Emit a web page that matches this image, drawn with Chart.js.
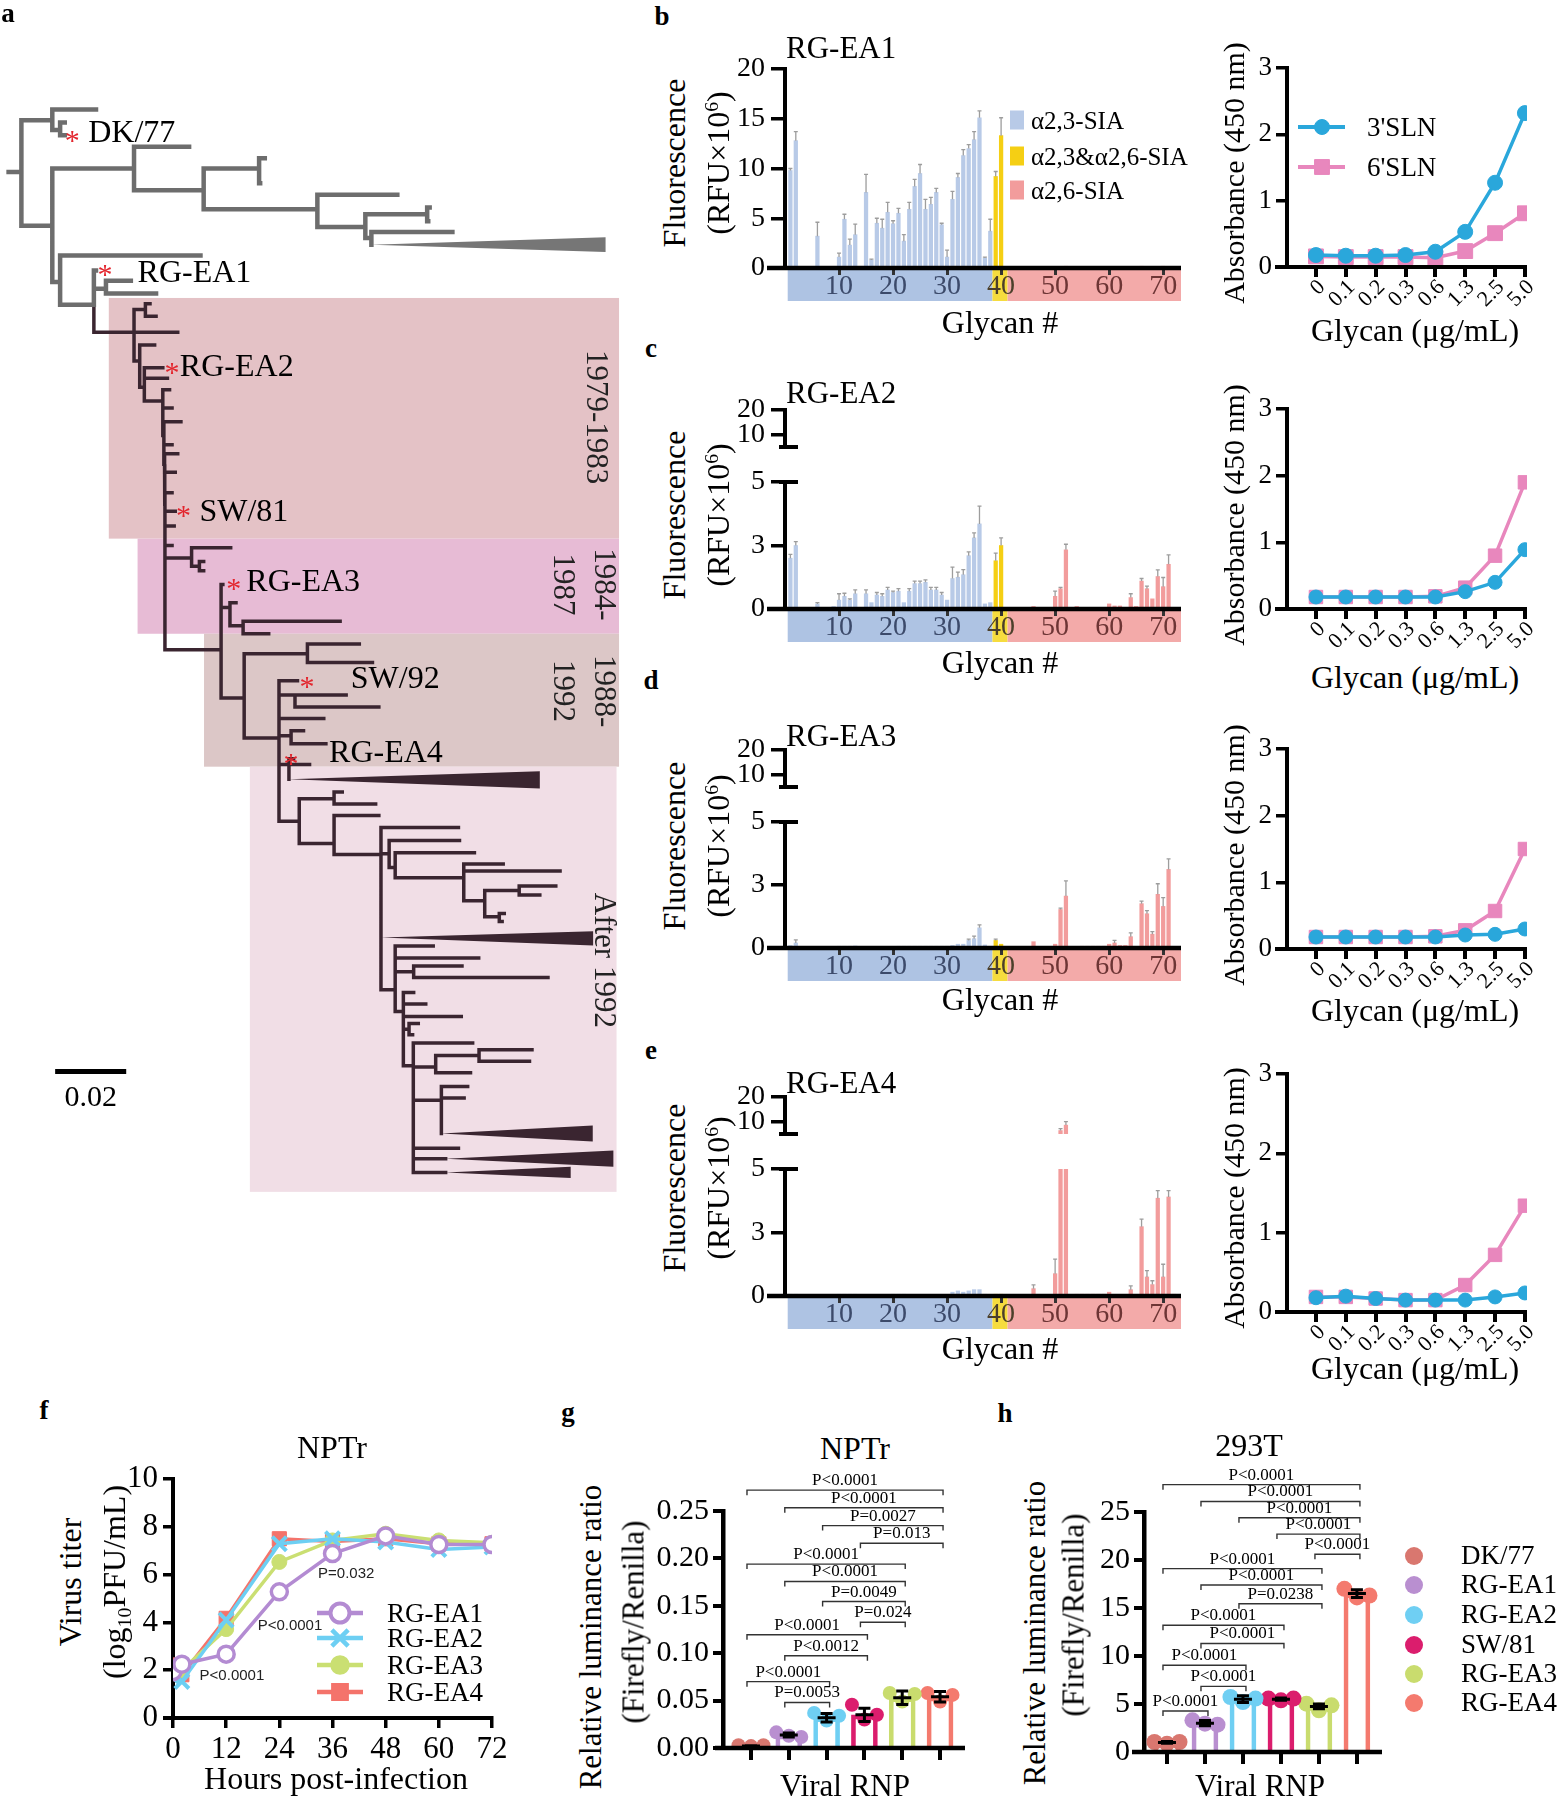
<!DOCTYPE html>
<html><head><meta charset="utf-8"><title>Figure</title>
<script src="https://cdn.jsdelivr.net/npm/chart.js@4.4.1/dist/chart.umd.min.js"></script>
<style>
html,body{margin:0;padding:0;background:#fff}
body{width:1558px;height:1800px;position:relative;overflow:hidden;font-family:"Liberation Serif","Times New Roman",serif;color:#000}
canvas{position:absolute}
.t,.l,.v,.p{position:absolute;white-space:nowrap;line-height:1}
.t{transform:translate(-50%,-50%)}
.l{transform:translate(0,-50%)}
.v{transform:translate(-50%,-50%) rotate(-90deg)}
.p{transform:translate(-50%,-50%);font-weight:bold}
.sq{position:absolute;transform:translate(0,-50%)}
.sup{font-size:.62em;position:relative;top:-.55em}
.sub{font-size:.62em;position:relative;top:.3em}
</style></head><body>
<script>
// ======================= DATA =======================
// ---- panel a: phylogenetic tree  [id, parent, distance (x0.001 subst/site), tip row, group]
const treeNodes = [
 ['r0',null,0,150,'g'],['r','r0',3.6,150,'g'],
 ['a','r',12.3,105,'g'],['a1','a',24.6,95.5,'g'],['a2','a',14.5,113.5,'g'],['a2a','a2',15.8,107,'g'],['a2b','a2',15.8,118,'g'],
 ['b','r',12.3,197,'g'],['c','b',35.3,147,'g'],['c1','c',50.8,128,'g'],['e','c',54.9,166,'g'],
 ['f','e',70.5,147,'g'],['f1','f',72.1,138,'g'],['f2','f',70.8,160,'g'],
 ['g','e',86.9,182.6,'g'],['g1','g',109.4,170,'g'],['h','g',100.4,198,'g'],
 ['i','h',117.8,187,'g'],['i1','i',118.5,181,'g'],['i2','i',118.1,193,'g'],
 ['j','h',102.1,207.7,'g'],['j1','j',124.9,202.5,'g'],['j2','j',102.1,213.5,'g'],
 ['d','b',14.5,246,'g'],['d1','d',54.0,223,'g'],['k','d',24.0,266,'g'],['ea1','k',24.6,236,'g'],
 ['l','k',27.4,252,'g'],['l1','l',34.4,245,'g'],['l2','l',41.5,256,'g'],
 ['m','k',35.3,290,'d'],['m1','m',47.6,290,'d'],['n','m',38.5,270,'d'],['n1','n',39.8,265,'d'],['n2','n',41.5,276,'d'],
 ['o','m',36.9,315,'d'],['o1','o',41.1,301,'d'],['p','o',38.2,338,'d'],['ea2','p',43.4,321,'d'],['p1','p',44.7,330,'d'],
 ['q','p',43.4,350,'d'],['q1','q',45.3,340,'d'],['q2','q',46.0,356,'d'],
 ['s','q',43.7,380,'d'],['s1','s',48.5,368,'d'],['s2','s',46.0,388,'d'],
 ['t','s',43.9,405,'d'],['t1','t',47.6,396,'d'],['t2','t',46.9,412,'d'],
 ['u','t',44.0,440,'d'],['u1','u',46.0,430,'d'],['sw81','u',46.9,446,'d'],
 ['v','u',44.0,468,'d'],['v1','v',46.6,459,'d'],['v2','v',46.0,476,'d'],
 ['w','v',44.0,490,'d'],['w1','w',51.5,487,'d'],['w1a','w1',62.5,478,'d'],['w1b','w1',53.7,494,'d'],['w1b1','w1b',54.9,490,'d'],['w1b2','w1b',54.9,498,'d'],
 ['xn','w',59.8,567,'d'],['ea3','xn',60.3,510,'d'],['y1','xn',62.3,530,'d'],['y1a','y1',64.0,526,'d'],
 ['y2','y1',66.0,546,'d'],['y2a','y2',93.3,542,'d'],['y2b','y2',73.2,553,'d'],
 ['z','xn',66.3,609,'d'],['z1','z',84.1,570.5,'d'],['z1a','z1',98.7,562,'d'],['z1b','z1',102.4,578,'d'],
 ['aa','z',76.1,644,'d'],['sw92','aa',81.3,594,'d'],['ab','aa',80.6,606.5,'d'],['ab1','ab',95.0,606.5,'d'],['ab2','ab',104.2,617,'d'],
 ['ac','aa',88.7,627,'d'],['ad','aa',79.5,642,'d'],['ad1','ad',83.0,637.6,'d'],['ad2','ad',89.3,649,'d'],
 ['ae','aa',78.9,667,'d'],['ea4','ae',80.2,662,'d'],['ae1','ae',84.7,667,'d'],['ae2','ae',78.9,680,'d'],
 ['af','aa',81.8,716.6,'d'],['ag','af',91.6,697,'d'],['ag1','ag',93.9,691,'d'],['ag2','ag',103.3,701.5,'d'],
 ['ah','af',91.6,736,'d'],['ah1','ah',104.2,711.6,'d'],['T','ah',104.8,745.7,'d'],
 ['T1','T',126.6,722,'d'],['T2','T',107.1,745,'d'],['T2a','T2',126.9,733.5,'d'],['T3','T2',108.8,757,'d'],['T3a','T3',131.1,744,'d'],
 ['T4','T3',128.1,766,'d'],['T4a','T4',139.2,754,'d'],['T4b','T4',155.2,760,'d'],['T5','T4',134.0,786,'d'],
 ['T5a','T5',143.7,777,'d'],['T5a1','T5a',154.0,773,'d'],['T5a2','T5a',149.5,781,'d'],
 ['T5b','T5',138.1,800,'d'],['T5b1','T5b',139.5,797,'d'],['T5b2','T5b',138.9,804,'d'],
 ['T6','T',104.8,818,'d'],['T7','T',108.8,863.6,'d'],['T7a','T7',119.5,825.5,'d'],['T7b','T7',132.3,836,'d'],
 ['T8','T7',114.0,848,'d'],['T8a','T8',127.6,843,'d'],['T8b','T8',151.8,853,'d'],
 ['T9','T7',111.1,882.7,'d'],['T9a','T9',114.0,866,'d'],['T9b','T9',117.4,876,'d'],['T9c','T9',127.4,887,'d'],
 ['T10','T9',112.7,898,'d'],['T10a','T10',115.3,893,'d'],['T10b','T10',113.7,903,'d'],
 ['T11','T9',113.9,930,'d'],['T11a','T11',130.6,910,'d'],['T12','T11',120.2,931,'d'],['T13','T12',132.4,921,'d'],
 ['T13a','T13',147.3,916,'d'],['T13b','T13',146.6,926,'d'],['T12a','T12',130.0,936,'d'],
 ['T14','T11',121.8,960,'d'],['T14a','T14',129.2,948,'d'],['T14b','T14',128.2,958,'d'],['T14c','T14',121.8,989,'d'],
 ['T11b','T11',126.6,1002,'d'],['T15','T11',123.0,1011,'d'],['T16','T11',123.0,1023,'d']
];
// collapsed clades: [apex node, tip distance, top row, bottom row]
const collapsedClades = [['j2',168,207,220],['ae2',149.5,673,688],['T6',164.5,812.6,825],['T14c',164.4,982,996],['T15',170.2,1004,1018],['T16',158.2,1018,1028]];
const periodNames = ['1979-1983','1984-1987','1988-1992','After 1992'];
const periodSpans = [[28.2,171.8,260,470],[36.3,171.8,470,553],[55.0,171.8,553,669],[67.9,171.1,669,1040]];
const markedStrains = ['DK/77','RG-EA1','RG-EA2','SW/81','RG-EA3','SW/92','RG-EA4'];
const scaleBarValue = 0.02;

// ---- panels b-e: glycan array (fluorescence, RFU x10^6), glycans 1..72
const glycanNumbers = Array.from({length:72},(_,i)=>i+1);
const glycanTickLabels = [10,20,30,40,50,60,70];
const ea1Fluor = [9.8,12.8,0,0,0,3.2,0,0,0,1.1, 4.9,2.3,3.35,0.1,7.6,0.8,4.5,4.0,5.6,4.45, 5.5,2.7,5.9,8.2,9.5,5.9,6.4,7.6,4.35,1.1, 6.9,9.1,11.3,12.0,12.9,15.1,1.0,3.7,9.2,13.3, 0,0,0,0,0,0,0,0,0,0, 0,0.1,0,0,0,0,0,0,0,0, 0,0,0,0,0,0.15,0,0,0,0.1, 0,0];
const ea1Err   = [0.2,0.9,0,0,0,1.4,0,0,0,0.4, 0.5,0.6,1.05,0,1.8,0.1,0.5,0.9,1.0,0.3, 0.5,0.65,0.7,0.7,0.9,1.0,0.7,0.4,0.15,0.7, 0.8,0.4,0.6,0.4,0.8,0.7,0.1,1.2,0.5,1.8, 0,0,0,0,0,0,0,0,0,0, 0,0,0,0,0,0,0,0,0,0, 0,0,0,0,0,0,0,0,0,0, 0,0];
const ea2Fluor = [2.0,2.5,0,0,0,0.2,0,0,0.1,0.35, 0.5,0.35,0.6,0,0.6,0.25,0.55,0.5,0.75,0.65, 0.7,0.25,0.7,1.0,1.0,1.05,0.75,0.75,0.55,0.35, 1.2,1.25,1.35,2.1,2.8,3.35,0.2,0.25,1.9,2.5, 0,0,0,0,0,0.1,0,0,0,0.5, 0.8,2.33,0,0.1,0,0,0,0,0,0.2, 0.12,0.12,0,0.45,0.1,1.1,0.8,0.4,1.28,0.88, 1.76,0];
const ea2Err   = [0.15,0.15,0,0,0,0.05,0,0,0,0.25, 0.12,0.05,0.15,0,0.15,0,0.1,0.1,0.1,0.05, 0.1,0,0.1,0.1,0.1,0.1,0.1,0.1,0.1,0, 0.45,0.2,0.2,0.15,0.2,0.7,0,0,0.3,0.3, 0,0,0,0,0,0,0,0,0,0.2, 0.05,0.22,0,0,0,0,0,0,0,0, 0,0,0,0.15,0,0.1,0.1,0,0.26,0.36, 0.37,0];
const ea3Fluor = [0.1,0.2,0,0,0,0,0,0,0,0.04, 0.05,0.05,0.08,0,0,0,0,0,0,0, 0.04,0.05,0.05,0.05,0.06,0.06,0.05,0.05,0.05,0.05, 0.1,0.15,0.15,0.3,0.37,0.8,0.12,0,0.3,0.15, 0,0,0,0,0,0.25,0,0,0,0.15, 1.53,2.06,0,0,0.05,0.05,0.05,0.05,0.05,0.15, 0.2,0.1,0.1,0.45,0,1.76,1.36,0.55,2.13,1.65, 3.12,0];
const ea3Err   = [0,0.12,0,0,0,0,0,0,0,0, 0,0,0,0,0,0,0,0,0,0, 0,0,0,0,0,0,0,0,0,0, 0,0,0,0.05,0.1,0.12,0,0,0.05,0, 0,0,0,0,0,0,0,0,0,0, 0.05,0.6,0,0,0,0,0,0,0,0, 0.1,0,0,0.15,0,0.1,0.12,0.1,0.42,0.35, 0.42,0];
const ea4Fluor = [0.05,0.05,0,0,0,0,0,0,0,0.05, 0.05,0.05,0.05,0,0,0,0,0,0,0.04, 0.04,0.04,0,0,0,0,0,0,0,0, 0.15,0.2,0.15,0.2,0.25,0.25,0.05,0,0.05,0.05, 0,0,0,0,0,0.29,0,0,0,0.88, 6.4,8.6,0,0.04,0.04,0.04,0.04,0.04,0.04,0.15, 0,0,0,0.25,0,2.73,0.75,0.45,3.85,0.75, 3.9,0.04];
const ea4Err   = [0,0,0,0,0,0,0,0,0,0, 0,0,0,0,0,0,0,0,0,0, 0,0,0,0,0,0,0,0,0,0, 0,0,0,0,0,0,0,0,0,0, 0,0,0,0,0,0.15,0,0,0,0.57, 0.8,1.4,0,0,0,0,0,0,0,0, 0,0,0,0.15,0,0.3,0.25,0.15,0.3,0.5, 0.25,0];
const linkageNames = ['α2,3-SIA','α2,3&α2,6-SIA','α2,6-SIA'];
const linkageLastGlycan = [38,41,72];
const linkageBand = [[0.5,38.4],[38.4,41.2],[41.2,73.3]];

// ---- panels b-e right: ELISA absorbance (450 nm)
const concLabels = ['0','0.1','0.2','0.3','0.6','1.3','2.5','5.0'];
const ea1_3SLN = [0.18,0.17,0.17,0.18,0.23,0.53,1.27,2.32];
const ea1_6SLN = [0.16,0.15,0.15,0.15,0.14,0.24,0.51,0.81];
const ea2_3SLN = [0.18,0.18,0.18,0.18,0.18,0.26,0.40,0.89];
const ea2_6SLN = [0.18,0.18,0.18,0.18,0.19,0.32,0.80,1.90];
const ea3_3SLN = [0.18,0.18,0.18,0.18,0.18,0.21,0.22,0.30];
const ea3_6SLN = [0.18,0.18,0.18,0.18,0.19,0.28,0.57,1.50];
const ea4_3SLN = [0.18,0.20,0.17,0.15,0.15,0.15,0.19,0.24];
const ea4_6SLN = [0.19,0.19,0.17,0.15,0.15,0.34,0.72,1.34];

// ---- panel f: growth kinetics in NPTr (log10 PFU/mL)
const hpi = [0,2,12,24,36,48,60,72];
const titerEA1 = [1.94,2.25,2.67,5.28,6.88,7.62,7.26,7.26];
const titerEA2 = [1.70,1.53,4.10,7.29,7.50,7.36,7.05,7.15];
const titerEA3 = [2.08,2.00,3.72,6.53,7.43,7.71,7.43,7.33];
const titerEA4 = [2.22,1.81,4.17,7.50,7.39,7.50,7.29,7.29];
const titerPText = ['P<0.0001','P<0.0001','P=0.032'];
const titerPHour = [13.3,26.4,39.1];
const titerPLevel = [1.76,3.85,6.03];

// ---- panels g, h: minigenome (relative luminance ratio)
const rnpNames = ['DK/77','RG-EA1','RG-EA2','SW/81','RG-EA3','RG-EA4'];
const nptrMean = [0.002,0.0137,0.032,0.035,0.053,0.054];
const nptrSD   = [0.0005,0.0021,0.0045,0.007,0.007,0.0055];
const nptrReps = [[0.003,0.002,0.003],[0.0165,0.013,0.0116],[0.037,0.029,0.034],[0.0456,0.030,0.035],[0.058,0.049,0.057],[0.058,0.049,0.056]];
const nptrTests = [[0,5,0.272,'P<0.0001'],[1,5,0.2535,'P<0.0001'],[2,5,0.2346,'P=0.0027'],[3,5,0.216,'P=0.013'],[0,4,0.194,'P<0.0001'],[1,4,0.1756,'P<0.0001'],[2,4,0.1545,'P=0.0049'],[3,4,0.1327,'P=0.024'],[0,3,0.1194,'P<0.0001'],[1,3,0.0973,'P<0.0012'],[0,2,0.070,'P<0.0001'],[1,2,0.048,'P=0.0053']];
const t293Mean = [1.0,3.0,5.5,5.5,4.75,16.5];
const t293SD   = [0.1,0.27,0.35,0.12,0.25,0.4];
const t293Reps = [[1.04,0.87,1.04],[3.3,2.95,2.85],[5.73,5.2,5.56],[5.56,5.38,5.56],[5.03,4.34,4.86],[17.0,16.1,16.3]];
const t293Tests = [[0,5,27.85,'P<0.0001'],[1,5,26.1,'P<0.0001'],[2,5,24.4,'P<0.0001'],[3,5,22.7,'P<0.0001'],[4,5,20.6,'P<0.0001'],[0,4,19.1,'P<0.0001'],[1,4,17.4,'P<0.0001'],[2,4,15.45,'P=0.0238'],[0,3,13.2,'P<0.0001'],[1,3,11.3,'P<0.0001'],[0,2,9.03,'P<0.0001'],[1,2,6.84,'P<0.0001'],[0,1,4.27,'P<0.0001']];

// ======================= STYLE / LAYOUT =======================
const SERIF = '"Liberation Serif","Times New Roman",serif';
Chart.defaults.font.family = SERIF;
Chart.defaults.color = '#000';
const periodColors = ['#e4c2c6','#e7bbd5','#dcc7c7','#f1dee6'];
const periodLabelPos = [[[165,364]],[[167.3,510],[155.9,510]],[[167.3,603],[155.9,603]],[[167.3,838]]];
const strainLabelPos = [[17.9,119,22.4,117],[27.1,236,36.3,239],[46.0,321,48.2,321],[49.2,446,53.7,447],[63.4,510,66.9,508],[84.0,595,96.3,593],[79.5,662,90.2,658]];
const linkColors = ['#b8cae7','#f5cf14','#f29c9c'];
const bandColors = ['#aec3e3','#f6dc3e','#f3aaa9'];
const bandText = ['#3c4a6a','#4b3f2a','#6d3535'];
const c3 = '#2aa7db', c6 = '#e887bd';
const grpColors = ['#d9776f','#b98fd0','#6fcff3','#db1d6d','#c9dc6e','#f47a6e'];
const fColors = ['#b38bd2','#6dcff3','#cadf72','#f4736b'];
const dotOffsets = [-0.33,0,0.33];

function mk(area, pad, cfg) {
  const [L,T,R,B] = area, [pl,pt,pr,pb] = pad;
  const cv = document.createElement('canvas');
  const w = Math.round(R-L+pl+pr), h = Math.round(B-T+pt+pb);
  cv.width = w; cv.height = h;
  cv.style.left = (L-pl)+'px'; cv.style.top = (T-pt)+'px';
  cv.style.width = w+'px'; cv.style.height = h+'px';
  cv.$ox = L-pl; cv.$oy = T-pt;
  document.body.appendChild(cv);
  const o = cfg.options = cfg.options || {};
  o.responsive = false; o.maintainAspectRatio = false; o.animation = false; o.devicePixelRatio = 1; o.events = [];
  o.plugins = Object.assign({legend:{display:false}, tooltip:{enabled:false}, title:{display:false}}, o.plugins||{});
  let hasX = false, hasY = false;
  Object.entries(o.scales||{}).forEach(([key, s]) => {
    const vertical = key[0] === 'y';
    const shown = s.display !== false;
    if (shown) { if (vertical) hasY = true; else hasX = true; }
    s.afterFit = sc => {
      if (sc.isHorizontal()) sc.height = shown ? pb : 0; else sc.width = shown ? pl : 0;
      sc.paddingLeft = sc.paddingRight = sc.paddingTop = sc.paddingBottom = 0; };
  });
  o.layout = {padding:{left: hasY ? 0 : pl, top:pt, right:pr, bottom: hasX ? 0 : pb}};
  return new Chart(cv, cfg);
}
function txt(cls, x, y, html, size, extra) {
  const d = document.createElement('div'); d.className = cls;
  d.style.left = x+'px'; d.style.top = y+'px'; d.style.fontSize = size+'px';
  if (extra) d.style.cssText += extra;
  d.innerHTML = html; document.body.appendChild(d); return d;
}
function marker(ctx, style, x, y, r, stroke, fill, lw) {
  ctx.save(); ctx.strokeStyle = stroke; ctx.fillStyle = fill; ctx.lineWidth = lw; ctx.beginPath();
  if (style === 'circle') { ctx.arc(x,y,r,0,Math.PI*2); ctx.fill(); ctx.stroke(); }
  else if (style === 'rect') { const s = r*Math.SQRT1_2; ctx.rect(x-s,y-s,2*s,2*s); ctx.fill(); ctx.stroke(); }
  else { const s = r*Math.SQRT1_2; ctx.moveTo(x-s,y-s); ctx.lineTo(x+s,y+s); ctx.moveTo(x-s,y+s); ctx.lineTo(x+s,y-s); ctx.stroke(); }
  ctx.restore();
}
const axisStyle = (tl, pad, size, bw, cb) => ({
  grid:{drawOnChartArea:false, drawTicks:true, tickLength:tl, lineWidth:bw-0.5, color:'#000'},
  border:{display:true, width:bw, color:'#000'},
  ticks:Object.assign({autoSkip:false, maxRotation:0, minRotation:0, font:{size:size}, color:'#000', padding:pad}, cb ? {callback:cb} : {})
});
const roundLabel = v => String(Math.round(v));

// ======================= PANEL a: tree =======================
(function(){
  const idx = {}; treeNodes.forEach(n => idx[n[0]] = n);
  const path = grp => { const pts = []; treeNodes.forEach(([id,par,d,row,g]) => { if (!par || g !== grp) return; const p = idx[par];
    pts.push({x:p[2],y:p[3]},{x:p[2],y:row},{x:d,y:row},{x:NaN,y:NaN}); }); return pts; };
  const plug = { id:'tree',
    beforeDatasetsDraw(ch){ const {ctx, scales:{x,y}} = ch;
      periodSpans.forEach((b,k) => { ctx.fillStyle = periodColors[k]; const x1=x.getPixelForValue(b[0]), x2=x.getPixelForValue(b[1]), y1=y.getPixelForValue(b[2]), y2=y.getPixelForValue(b[3]); ctx.fillRect(x1,y1,x2-x1,y2-y1); });
      ctx.save(); ctx.fillStyle = '#222'; ctx.font = '31px '+SERIF; ctx.textAlign='center'; ctx.textBaseline='middle';
      periodNames.forEach((nm,k) => { const pos = periodLabelPos[k]; const lines = pos.length === 2 ? [nm.slice(0,5), nm.slice(5)] : [nm];
        lines.forEach((ln,j) => { ctx.save(); ctx.translate(x.getPixelForValue(pos[j][0]), y.getPixelForValue(pos[j][1])); ctx.rotate(Math.PI/2); ctx.fillText(ln,0,0); ctx.restore(); }); });
      ctx.restore();
    },
    afterDatasetsDraw(ch){ const {ctx, scales:{x,y}} = ch;
      collapsedClades.forEach(([id,tip,top,bot]) => { const n = idx[id]; ctx.fillStyle = n[4]==='g' ? '#767676' : '#3a2530';
        ctx.beginPath(); ctx.moveTo(x.getPixelForValue(n[2]), y.getPixelForValue(n[3])); ctx.lineTo(x.getPixelForValue(tip), y.getPixelForValue(top)); ctx.lineTo(x.getPixelForValue(tip), y.getPixelForValue(bot)); ctx.closePath(); ctx.fill(); });
      const sb0 = 13.1, sb1 = sb0 + scaleBarValue*1000, sbRow = 935;
      ctx.save(); ctx.strokeStyle = '#000'; ctx.lineWidth = 5; ctx.beginPath(); ctx.moveTo(x.getPixelForValue(sb0), y.getPixelForValue(sbRow)); ctx.lineTo(x.getPixelForValue(sb1), y.getPixelForValue(sbRow)); ctx.stroke();
      ctx.fillStyle = '#000'; ctx.font = '30px '+SERIF; ctx.textAlign='center'; ctx.textBaseline='middle';
      ctx.fillText(String(scaleBarValue), x.getPixelForValue((sb0+sb1)/2), y.getPixelForValue(sbRow)+27);
      markedStrains.forEach((nm,k) => { const [au,ar,tu,tr] = strainLabelPos[k];
        ctx.fillStyle = '#e3262e'; ctx.font = '30px '+SERIF; ctx.textAlign='center'; ctx.fillText('*', x.getPixelForValue(au), y.getPixelForValue(ar)+6);
        ctx.fillStyle = '#000'; ctx.font = '32px '+SERIF; ctx.textAlign='left'; ctx.fillText(nm, x.getPixelForValue(tu), y.getPixelForValue(tr)); });
      ctx.restore();
    }
  };
  mk([0,0,640,1200],[0,0,0,0],{ type:'scatter',
    data:{datasets:[
      {data:path('g'), showLine:true, borderColor:'#6d6d6d', borderWidth:4.5, pointRadius:0, borderJoinStyle:'miter', borderCapStyle:'square', spanGaps:false},
      {data:path('d'), showLine:true, borderColor:'#3a2530', borderWidth:3.5, pointRadius:0, borderJoinStyle:'miter', borderCapStyle:'square', spanGaps:false}]},
    options:{scales:{x:{type:'linear',display:false,min:-2.42,max:177.7}, y:{type:'linear',display:false,min:0,max:1047.1,reverse:true}}},
    plugins:[plug]});
})();

// ======================= PANELS b-e: glycan arrays =======================
function glycanColor(n){ return linkColors[linkageLastGlycan.findIndex(v => n <= v)]; }
function glycanChart(area, vals, errs, yMin, yMax, yTicks, kind) {
  const lowerLike = kind !== 'upper';
  const plug = { id:'gly',
    beforeDraw(ch){ if (!lowerLike) return; const {ctx, chartArea:a, scales:{x}} = ch;
      linkageBand.forEach((r,k) => { const x1 = x.getPixelForValue(r[0]), x2 = Math.min(x.getPixelForValue(r[1]), a.right); ctx.fillStyle = bandColors[k]; ctx.fillRect(x1, a.bottom+2, x2-x1, 31); }); },
    afterDatasetsDraw(ch){ const {ctx, chartArea:a, scales:{x,y}} = ch;
      ctx.save(); ctx.beginPath(); ctx.rect(a.left, a.top-2, a.right-a.left, a.bottom-a.top+2); ctx.clip();
      ctx.strokeStyle = '#9d9d9d'; ctx.lineWidth = 1.3;
      vals.forEach((v,i) => { const e = errs[i]; if (!e) return; const px = x.getPixelForValue(glycanNumbers[i]);
        const y1 = y.getPixelForValue(v), y2 = y.getPixelForValue(v+e);
        ctx.beginPath(); ctx.moveTo(px,y1); ctx.lineTo(px,y2); ctx.moveTo(px-2,y2); ctx.lineTo(px+2,y2); ctx.stroke(); });
      ctx.restore();
      ctx.save(); ctx.strokeStyle = '#000';
      if (lowerLike) { ctx.lineWidth = 4.5; ctx.beginPath(); ctx.moveTo(a.left-18, a.bottom); ctx.lineTo(a.right, a.bottom); ctx.stroke(); }
      ctx.lineWidth = 4;
      if (kind === 'lower') { ctx.beginPath(); ctx.moveTo(a.left-6, a.top); ctx.lineTo(a.left+13, a.top); ctx.stroke(); }
      if (kind === 'upper') { ctx.beginPath(); ctx.moveTo(a.left-6, a.bottom); ctx.lineTo(a.left+13, a.bottom); ctx.stroke(); }
      ctx.restore(); },
    afterDraw(ch){ if (!lowerLike) return; const {ctx, chartArea:a, scales:{x}} = ch;
      ctx.save(); ctx.font = '28px '+SERIF; ctx.textAlign='center'; ctx.textBaseline='middle';
      glycanTickLabels.forEach(n => { const k = linkageBand.findIndex(r => n >= r[0] && n < r[1]); ctx.fillStyle = bandText[n === 40 ? 1 : k]; ctx.fillText(String(n), x.getPixelForValue(n), a.bottom+19); });
      ctx.restore(); }
  };
  const ys = axisStyle(14, 6, 28, 4, roundLabel);
  return mk(area, [70,12,12,48], { type:'bar',
    data:{datasets:[{data: vals.map((v,i)=>({x:glycanNumbers[i], y:v})), backgroundColor: glycanNumbers.map(glycanColor), barThickness:3.6, borderWidth:0, clip:0}]},
    options:{scales:{
      x:{type:'linear', min:0, max:73.3, offset:false, display:lowerLike,
         grid:{offset:false, drawOnChartArea:false, drawTicks:true, tickLength:7, lineWidth:3, color:'#333'},
         border:{display:false}, ticks:{display:false, autoSkip:false},
         afterBuildTicks: s => { s.ticks = glycanTickLabels.map(v=>({value:v})); }},
      y:Object.assign(ys, {min:yMin, max:yMax, afterBuildTicks: s => { s.ticks = yTicks.map(v=>({value:v})); }})
    }},
    plugins:[plug]});
}
const GX0 = 785, GX1 = 1181;
glycanChart([GX0,69,GX1,268], ea1Fluor, ea1Err, 0, 20, [0,5,10,15,20], 'full');
[[ea2Fluor,ea2Err,410,447,482,609],[ea3Fluor,ea3Err,750,787,822,948],[ea4Fluor,ea4Err,1097,1134,1169,1296]].forEach(([v,e,ut,ub,lt,lb]) => {
  glycanChart([GX0,lt,GX1,lb], v, e, 0, 5, [0,2.5,5], 'lower');
  glycanChart([GX0,ut,GX1,ub], v, e, 5, 20, [10,20], 'upper');
});

// ======================= absorbance charts =======================
function absChart(area, s3, s6, big, legend) {
  const r3 = big ? 7.5 : 7, r6 = big ? 10.5 : 9.5;
  const plug = { id:'abs', afterDraw(ch){ const {ctx, chartArea:a, scales:{x}} = ch; const ox = ch.canvas.$ox, oy = ch.canvas.$oy;
    ctx.save(); ctx.strokeStyle = '#000'; ctx.lineWidth = 4; ctx.beginPath(); ctx.moveTo(a.left-12, a.bottom); ctx.lineTo(a.right, a.bottom); ctx.stroke();
    ctx.fillStyle = '#000'; ctx.font = '22px '+SERIF; ctx.textAlign = 'right'; ctx.textBaseline = 'middle';
    concLabels.forEach((t,i) => { ctx.save(); ctx.translate(x.getPixelForValue(i)+6, a.bottom+17); ctx.rotate(-Math.PI/4); ctx.fillText(t,0,0); ctx.restore(); });
    if (legend) {
      [[c3,'circle',r3,127],[c6,'rect',r6,167]].forEach(([c,st,r,py]) => { ctx.strokeStyle = c; ctx.lineWidth = 4; ctx.beginPath(); ctx.moveTo(1298-ox, py-oy); ctx.lineTo(1345-ox, py-oy); ctx.stroke(); marker(ctx, st, 1322-ox, py-oy, r, c, c, 1); });
    }
    ctx.restore(); } };
  const ys = axisStyle(11, 4, 27, 4, roundLabel);
  return mk(area, [50,15,25,50], { type:'scatter',
    data:{datasets:[
      {data:s3.map((v,i)=>({x:i,y:v})), showLine:true, borderColor:c3, backgroundColor:c3, borderWidth:3.5, pointStyle:'circle', pointRadius:r3, pointBorderWidth:1},
      {data:s6.map((v,i)=>({x:i,y:v})), showLine:true, borderColor:c6, backgroundColor:c6, borderWidth:3.5, pointStyle:'rect', pointRadius:r6, pointBorderWidth:1}]},
    options:{scales:{
      x:{type:'linear', min:-0.97, max:7.07, grid:{drawOnChartArea:false, drawTicks:true, tickLength:10, lineWidth:4, color:'#000'}, border:{display:false}, ticks:{display:false, autoSkip:false},
         afterBuildTicks: s => { s.ticks = concLabels.map((_,i)=>({value:i})); }},
      y:Object.assign(ys, {min:0, max:3, afterBuildTicks: s => { s.ticks = [0,1,2,3].map(v=>({value:v})); }})
    }}, plugins:[plug]});
}
absChart([1287,68,1527,267], ea1_3SLN, ea1_6SLN, true, true);
absChart([1287,409,1527,609], ea2_3SLN, ea2_6SLN, false, false);
absChart([1287,749,1527,949], ea3_3SLN, ea3_6SLN, false, false);
absChart([1287,1074,1527,1312], ea4_3SLN, ea4_6SLN, false, false);

// ======================= PANEL f =======================
(function(){
  const series = [titerEA1, titerEA2, titerEA3, titerEA4];
  const names = ['RG-EA1','RG-EA2','RG-EA3','RG-EA4'];
  const styles = [['circle',8,'#fff',3.5],['crossRot',10,null,4],['circle',7.5,null,1],['rect',10,null,1]];
  const plug = { id:'fdeco', afterDraw(ch){ const {ctx, chartArea:a, scales:{x,y}} = ch; const ox = ch.canvas.$ox, oy = ch.canvas.$oy;
    ctx.save(); ctx.strokeStyle='#000'; ctx.lineWidth=4; ctx.beginPath(); ctx.moveTo(a.left-10, a.bottom); ctx.lineTo(a.left, a.bottom); ctx.stroke();
    ctx.font = '15px "Liberation Sans",Arial,sans-serif'; ctx.fillStyle = '#222'; ctx.textAlign='center'; ctx.textBaseline='middle';
    titerPText.forEach((t,k) => ctx.fillText(t, x.getPixelForValue(titerPHour[k]), y.getPixelForValue(titerPLevel[k])));
    [1613,1638,1665,1692].forEach((py,k) => { const c = fColors[k]; ctx.strokeStyle = c; ctx.lineWidth = 4.5; ctx.beginPath(); ctx.moveTo(317-ox, py-oy); ctx.lineTo(363-ox, py-oy); ctx.stroke();
      const st = styles[k]; marker(ctx, st[0], 340-ox, py-oy, st[1]+1.5, c, st[2] || c, st[3]+0.5); });
    ctx.restore(); } };
  const ys = axisStyle(10, 5, 31, 4, roundLabel);
  const xs = axisStyle(10, 3, 31, 4, roundLabel);
  mk([173,1479,492,1718],[60,15,20,50],{ type:'scatter',
    data:{datasets: series.map((s,k) => ({ label:names[k], data:s.map((v,i)=>({x:hpi[i],y:v})), showLine:true, borderColor:fColors[k], backgroundColor: styles[k][2] || fColors[k], borderWidth:3.5, pointStyle:styles[k][0], pointRadius:styles[k][1], pointBorderWidth:styles[k][3] }))},
    options:{scales:{
      x:Object.assign(xs, {type:'linear', min:0, max:72, afterBuildTicks: s => { s.ticks = [0,12,24,36,48,60,72].map(v=>({value:v})); }}),
      y:Object.assign(ys, {min:0, max:10, afterBuildTicks: s => { s.ticks = [0,2,4,6,8,10].map(v=>({value:v})); }})
    }}, plugins:[plug]});
})();

// ======================= PANELS g, h =======================
function rnpChart(area, pad, xr, means, sds, reps, tests, yMax, yTicks, dec, dotR, extLeft, legend) {
  const plug = { id:'rnp', afterDatasetsDraw(ch){ const {ctx, chartArea:a, scales:{x,y}} = ch; const ox = ch.canvas.$ox, oy = ch.canvas.$oy;
    ctx.save();
    ctx.strokeStyle='#000'; ctx.lineWidth = 4.5; ctx.beginPath(); ctx.moveTo(a.left-extLeft, a.bottom); ctx.lineTo(a.right, a.bottom); ctx.stroke();
    ctx.lineWidth = 3;
    means.forEach((m,i) => { const px = x.getPixelForValue(i), t = y.getPixelForValue(m+sds[i]), b = y.getPixelForValue(m-sds[i]), c = y.getPixelForValue(m);
      ctx.beginPath(); ctx.moveTo(px,t); ctx.lineTo(px,b); ctx.moveTo(px-6,t); ctx.lineTo(px+6,t); ctx.moveTo(px-6,b); ctx.lineTo(px+6,b); ctx.moveTo(px-9,c); ctx.lineTo(px+9,c); ctx.stroke(); });
    ctx.strokeStyle = '#333'; ctx.lineWidth = 1.4; ctx.fillStyle = '#000'; ctx.font = '17px '+SERIF; ctx.textAlign='center'; ctx.textBaseline='bottom';
    tests.forEach(([i,j,yv,lab]) => { const x1 = x.getPixelForValue(i) - 4, x2 = x.getPixelForValue(j) + 3, py = y.getPixelForValue(yv);
      ctx.beginPath(); ctx.moveTo(x1, py+5); ctx.lineTo(x1, py); ctx.lineTo(x2, py); ctx.lineTo(x2, py+5); ctx.stroke(); ctx.fillText(lab, (x1+x2)/2, py-1); });
    if (legend) { ctx.font = '27px '+SERIF; ctx.textAlign='left'; ctx.textBaseline='middle';
      legend.forEach((py,k) => { ctx.fillStyle = grpColors[k]; ctx.beginPath(); ctx.arc(1414-ox, py-oy, 9, 0, Math.PI*2); ctx.fill(); ctx.fillStyle = '#000'; ctx.fillText(rnpNames[k], 1461-ox, py-oy+1); }); }
    ctx.restore(); } };
  const ys = axisStyle(10, 4, 30, 4.5, v => v.toFixed(dec));
  return mk(area, pad, { type:'bar',
    data:{datasets:[
      {type:'bar', data:means.map((m,i)=>({x:i,y:m})), backgroundColor:'rgba(255,255,255,0)', borderColor:grpColors, borderWidth:4, barThickness:26, borderSkipped:'start', order:2},
      ...reps.map((r,i) => ({type:'scatter', data:r.map((v,k)=>({x:i+dotOffsets[k], y:v})), backgroundColor:grpColors[i], borderColor:grpColors[i], pointRadius:dotR, pointBorderWidth:0, order:1}))]},
    options:{scales:{
      x:{type:'linear', min:xr[0], max:xr[1], offset:false, grid:{offset:false, drawOnChartArea:false, drawTicks:true, tickLength:12, lineWidth:4, color:'#000'}, border:{display:false}, ticks:{display:false, autoSkip:false},
         afterBuildTicks: s => { s.ticks = rnpNames.map((_,i)=>({value:i})); }},
      y:Object.assign(ys, {min:0, max:yMax, afterBuildTicks: s => { s.ticks = yTicks.map(v=>({value:v})); }})
    }}, plugins:[plug]});
}
rnpChart([723,1511,965,1748], [90,45,15,20], [-0.74,5.66], nptrMean, nptrSD, nptrReps, nptrTests, 0.25, [0,0.05,0.10,0.15,0.20,0.25], 2, 7, 8, null);
rnpChart([1144,1512,1382,1752], [80,55,176,20], [-0.605,5.66], t293Mean, t293SD, t293Reps, t293Tests, 25, [0,5,10,15,20,25], 0, 8, 12, [1556,1585,1615,1645,1674,1703]);

// ======================= TEXT =======================
[['a',8,13],['b',662,16],['c',651,348],['d',651,680],['e',651,1050],['f',44,1410],['g',568,1412],['h',1005,1413]].forEach(([t,x,y]) => txt('p',x,y,t,27));
[['RG-EA1',47,163,322],['RG-EA2',392,515,662],['RG-EA3',735,846,999],['RG-EA4',1082,1188,1348]].forEach(([t,ty,yc,gy]) => {
  txt('l',786,ty,t,31);
  txt('v',674,yc,'Fluorescence',32);
  txt('v',718,yc,'(RFU×10<span class="sup">6</span>)',32);
  txt('t',1000,gy,'Glycan #',32);
});
linkageNames.forEach((nm,k) => {
  const y = [120,156,190][k];
  const s = document.createElement('div'); s.className='sq'; s.style.cssText += `left:1010px;top:${y}px;width:14px;height:19px;background:${linkColors[k]}`; document.body.appendChild(s);
  txt('l',1031,y,nm,25);
});
[[173,330],[515,677],[855,1010],[1198,1368]].forEach(([yc,gy]) => {
  txt('v',1234,yc,'Absorbance (450 nm)',30);
  txt('t',1415,gy,'Glycan (μg/mL)',32);
});
txt('l',1367,127,"3'SLN",27); txt('l',1367,167,"6'SLN",27);
txt('t',332,1447,'NPTr',32);
txt('v',70,1582,'Virus titer',32);
txt('v',114,1582,'(log<span class="sub">10</span>PFU/mL)',32);
txt('t',336,1778,'Hours post-infection',32);
['RG-EA1','RG-EA2','RG-EA3','RG-EA4'].forEach((t,k) => txt('l',387,[1613,1638,1665,1692][k],t,27));
txt('t',855,1448,'NPTr',32);
txt('v',590,1637,'Relative luminance ratio',31);
txt('v',633,1622,'(Firefly/Renilla)',31);
txt('t',845,1785,'Viral RNP',31);
txt('t',1249,1445,'293T',32);
txt('v',1034,1633,'Relative luminance ratio',31);
txt('v',1073,1615,'(Firefly/Renilla)',31);
txt('t',1260,1785,'Viral RNP',31);
</script>
</body></html>
